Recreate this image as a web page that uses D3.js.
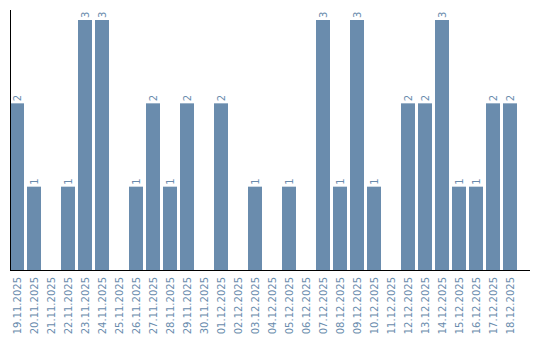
<!DOCTYPE html>
<html><head><meta charset="utf-8">
<script src="https://cdn.jsdelivr.net/npm/d3@7"></script>
<style>body{margin:0;background:#fff}svg{display:block}</style>
</head><body>
<svg id="c" width="540" height="340"></svg>
<script>
const categories = ["19.11.2025","20.11.2025","21.11.2025","22.11.2025","23.11.2025","24.11.2025","25.11.2025","26.11.2025","27.11.2025","28.11.2025","29.11.2025","30.11.2025","01.12.2025","02.12.2025","03.12.2025","04.12.2025","05.12.2025","06.12.2025","07.12.2025","08.12.2025","09.12.2025","10.12.2025","11.12.2025","12.12.2025","13.12.2025","14.12.2025","15.12.2025","16.12.2025","17.12.2025","18.12.2025"];
const values = [2,1,0,1,3,3,0,1,2,1,2,0,2,0,1,0,1,0,3,1,3,1,0,2,2,3,1,1,2,2];

const svg = d3.select("#c");
const color = "#6a8cad";
const font = "DejaVu Sans, sans-serif";
const x = d3.scaleBand().domain(categories).range([10, 517]).paddingInner(3/17).paddingOuter(0);
const y = d3.scaleLinear().domain([0, 3]).range([270, 20]);

const data = categories.map((c, i) => ({c, v: values[i]}));

svg.append("g").selectAll("rect").data(data.filter(d => d.v > 0)).join("rect")
  .attr("x", d => x(d.c)).attr("y", d => y(d.v))
  .attr("width", x.bandwidth()).attr("height", d => y(0) - y(d.v))
  .attr("fill", color);

svg.append("g").selectAll("text").data(data.filter(d => d.v > 0)).join("text")
  .attr("transform", d => `translate(${x(d.c) + x.bandwidth()/2},${y(d.v) - 2}) rotate(-90)`)
  .attr("dy", "0.35em").attr("text-anchor", "start")
  .attr("font-family", font).attr("font-size", 10).attr("fill", color)
  .text(d => d.v);

// axes
const xAxis = d3.axisBottom(x).tickSize(0).tickPadding(0);
const gx = svg.append("g").attr("transform", "translate(0,270)").call(xAxis);
gx.select(".domain").remove();
gx.selectAll("text")
  .attr("font-family", font).attr("font-size", 10).attr("fill", color)
  .attr("text-anchor", "end").attr("dy", "0.35em").attr("y", 0)
  .attr("transform", "translate(0,7) rotate(-90)");

svg.append("line").attr("x1", 10).attr("x2", 530).attr("y1", 270.5).attr("y2", 270.5)
  .attr("stroke", "#000").attr("stroke-width", 1);
svg.append("line").attr("x1", 10.5).attr("x2", 10.5).attr("y1", 10).attr("y2", 270)
  .attr("stroke", "#000").attr("stroke-width", 1);
</script>
</body></html>
